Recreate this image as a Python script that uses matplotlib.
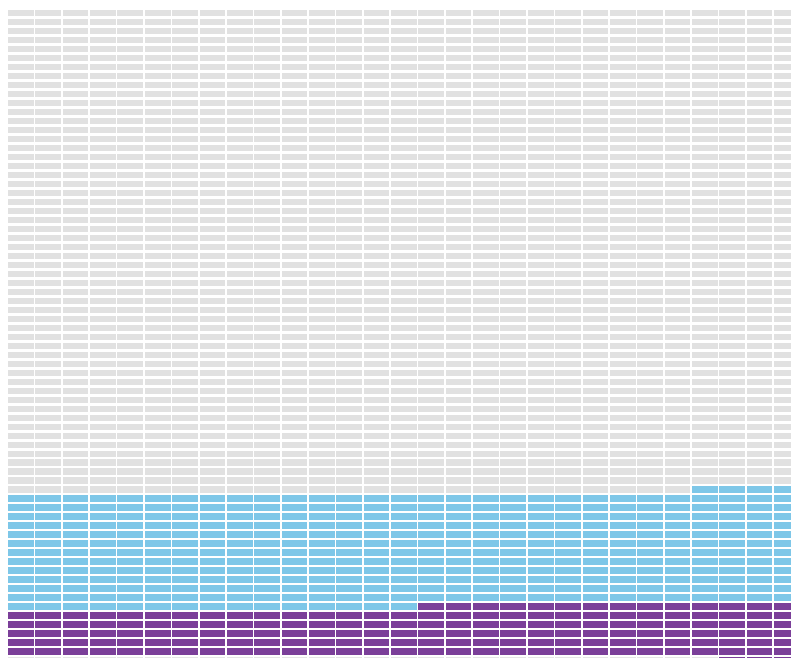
import numpy as np
import matplotlib
matplotlib.use('Agg')
from matplotlib import pyplot as plt
from matplotlib.patches import Rectangle
from matplotlib.collections import PatchCollection

# waffle cells in fill order (top-left, row by row, left to right)
segment_names = ['Rest', 'Group A', 'Group B', 'Rest (tail)', 'Group B (tail)']
segment_counts = [1562, 367, 159, 26, 3]
segment_colors = ['#e1e1e1', '#7ec7e8', '#7b3f99', '#e6e6e6', '#7b3f99']
n_cols = 29


def cell_layout(counts, n_cols):
    idx = np.arange(sum(counts))
    return idx % n_cols, idx // n_cols


cols, rows = cell_layout(segment_counts, n_cols)
colors = np.repeat(segment_colors, segment_counts)

fig = plt.figure(figsize=(7.91, 6.58), dpi=100)
ax = fig.add_axes([0, 0, 1, 1])

cell_w, cell_h = 0.94, 0.72
patches = [Rectangle((c, r), cell_w, cell_h) for c, r in zip(cols, rows)]
pc = PatchCollection(patches, facecolors=colors, edgecolors='none')
ax.add_collection(pc)

col_px, row_px = 27.36, 8.99
ax.set_xlim(-8 / col_px, (791 - 8) / col_px)
ax.set_ylim((658 - 10) / row_px, -10 / row_px)
ax.axis('off')

plt.savefig('out.png', dpi=100, facecolor='white')
